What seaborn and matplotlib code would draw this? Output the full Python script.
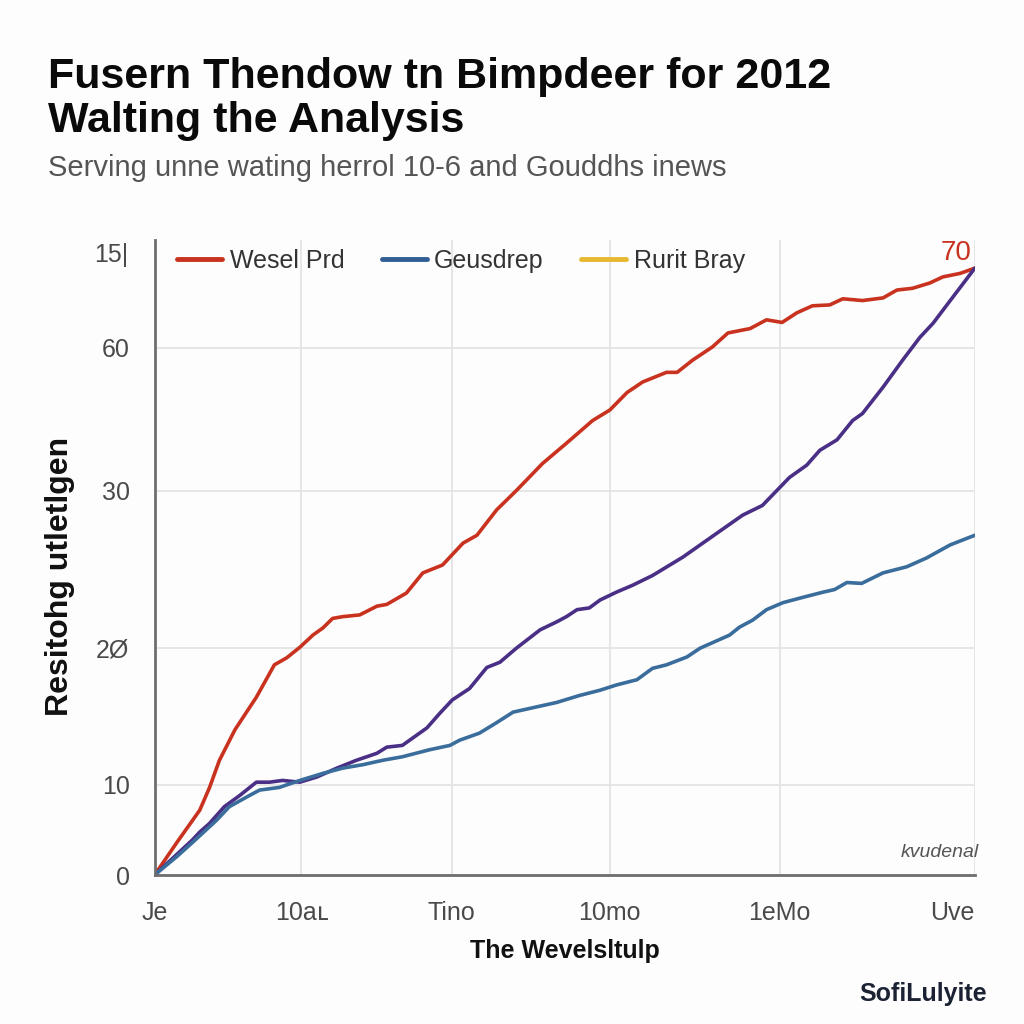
import numpy as np
import pandas as pd
import matplotlib.pyplot as plt
import seaborn as sns
from matplotlib.lines import Line2D

# Datos
red_x = [0, 2.7, 5.5, 6.7, 7.9, 9.8, 12.4, 14.6, 16.1, 17.7, 19.3, 20.5, 21.7, 22.9, 25.0,
         27.1, 28.3, 30.7, 32.7, 35.1, 37.6, 39.3, 41.7, 44.1, 47.3, 50.2, 53.4, 55.5, 57.6,
         59.5, 62.4, 63.7, 65.6, 68.0, 69.9, 72.6, 74.6, 76.5, 78.3, 80.2, 82.3, 83.9, 86.3,
         88.8, 90.5, 92.4, 94.5, 96.1, 98.2, 100]
red_y = [0, 3.7, 7.4, 10.0, 13.1, 16.6, 20.3, 24.0, 24.8, 26.0, 27.4, 28.2, 29.3, 29.5, 29.7,
         30.7, 30.9, 32.2, 34.5, 35.4, 37.9, 38.8, 41.7, 43.9, 47.0, 49.3, 51.9, 53.1, 55.1,
         56.3, 57.4, 57.4, 58.8, 60.3, 61.9, 62.4, 63.4, 63.1, 64.2, 65.0, 65.1, 65.8, 65.6,
         65.9, 66.8, 67.0, 67.6, 68.3, 68.7, 69.3]

purple_x = [0, 4.6, 5.5, 6.7, 8.5, 10.4, 12.4, 14.0, 15.6, 17.7, 19.8, 22.2, 24.6, 27.1, 28.3,
            30.2, 32.0, 33.2, 34.8, 36.3, 38.4, 40.5, 42.1, 44.1, 47.0, 49.0, 50.2, 51.5, 53.0,
            54.3, 56.3, 58.3, 60.7, 64.4, 68.5, 71.7, 74.1, 77.4, 79.5, 81.1, 83.2, 85.1, 86.3,
            88.8, 91.2, 93.3, 94.9, 97.0, 100]
purple_y = [0, 4.0, 4.9, 5.9, 7.8, 9.1, 10.6, 10.6, 10.8, 10.6, 11.2, 12.2, 13.1, 13.9, 14.6,
            14.8, 16.0, 16.8, 18.5, 20.0, 21.3, 23.7, 24.3, 25.9, 28.0, 28.9, 29.5, 30.3, 30.5,
            31.4, 32.3, 33.1, 34.2, 36.3, 39.0, 41.1, 42.2, 45.4, 46.8, 48.5, 49.7, 51.9, 52.7,
            55.7, 58.8, 61.4, 63.0, 65.6, 69.3]

blue_x = [0, 2.7, 4.6, 7.6, 9.1, 11.6, 12.8, 15.2, 17.7, 20.5, 22.9, 25.4, 27.8, 30.2, 33.5,
          36.0, 37.2, 39.6, 41.7, 43.7, 46.1, 49.0, 51.8, 54.3, 56.3, 58.8, 60.7, 62.4, 64.9,
          66.5, 70.1, 71.3, 72.9, 74.6, 76.6, 79.0, 81.5, 82.9, 84.4, 86.2, 88.8, 91.7, 94.1,
          97.0, 100]
blue_y = [0, 2.1, 3.7, 6.3, 7.8, 9.1, 9.7, 10.0, 10.8, 11.6, 12.2, 12.6, 13.1, 13.5, 14.3,
          14.8, 15.4, 16.2, 17.4, 18.6, 19.1, 19.7, 20.5, 21.1, 21.7, 22.3, 23.6, 24.0, 24.9,
          25.9, 27.4, 28.3, 29.1, 30.3, 31.1, 31.7, 32.3, 32.6, 33.4, 33.3, 34.5, 35.2, 36.2,
          37.7, 38.8]

x_ticks = [0, 17.9, 36.2, 55.5, 76.2, 100]
x_labels = ["Je", "10aւ", "Tino", "10mo", "1eMo", "Uve"]
y_ticks = [0, 10.3, 25.9, 43.9, 60.2]
y_labels = ["0", "10", "2Ø", "30", "60"]

legend_names = ["Wesel Prd", "Geusdrep", "Rurit Bray"]
legend_colors = ["#c8321e", "#2f5f95", "#e8b830"]

# Tabla larga para seaborn
df = pd.concat([
    pd.DataFrame({"x": red_x, "y": red_y, "serie": "rojo"}),
    pd.DataFrame({"x": purple_x, "y": purple_y, "serie": "morado"}),
    pd.DataFrame({"x": blue_x, "y": blue_y, "serie": "azul"}),
])
palette = {"rojo": "#c8321e", "morado": "#4a2f86", "azul": "#3a6d9c"}

sns.set_theme(style="whitegrid")
plt.rcParams['font.family'] = ['Liberation Sans', 'DejaVu Sans']

fig = plt.figure(figsize=(10.24, 10.24), dpi=100)
fig.patch.set_facecolor("#fdfdfd")
ax = fig.add_axes([0.151, 0.1455, 0.801, 0.62])
ax.set_facecolor("#fdfdfd")

sns.lineplot(data=df, x="x", y="y", hue="serie", palette=palette, estimator=None,
             sort=False, linewidth=2.6, legend=False, ax=ax)

ax.set_xlim(0, 100)
ax.set_ylim(0, 72.5)
ax.set_xticks(x_ticks)
ax.set_xticklabels(x_labels)
ax.set_yticks(y_ticks)
ax.set_yticklabels(y_labels)
ax.grid(True, color="#e4e4e4", linewidth=1.3)
for s in ["top", "right"]:
    ax.spines[s].set_visible(False)
for s in ["left", "bottom"]:
    ax.spines[s].set_color("#6e6e6e")
    ax.spines[s].set_linewidth(2)
ax.tick_params(axis="both", which="both", length=9, width=2, color="#6e6e6e",
               labelsize=18, labelcolor="#4a4a4a", direction="out")
ax.tick_params(axis="x", pad=10)
ax.tick_params(axis="y", pad=9)
ax.get_xticklabels()[-1].set_horizontalalignment("right")

ax.set_xlabel("The Wevelsltulp", fontsize=18, fontweight="bold", color="#111111", labelpad=10)
ax.set_ylabel("Resitohg utletlgen", fontsize=23, fontweight="bold", color="#111111")
ax.yaxis.set_label_coords(-0.097, 0.47)

# etiqueta superior del eje y
ax.text(-0.032, 70.8, "15|", transform=ax.get_yaxis_transform(), ha="right", va="center",
        fontsize=18, color="#4a4a4a")
ax.text(99.6, 69.6, "70", ha="right", va="bottom", fontsize=20, color="#c8321e")
ax.text(1.005, 0.022, "kvudenal", transform=ax.transAxes, ha="right", va="bottom",
        fontsize=14, style="italic", color="#555555")

handles = [Line2D([0], [0], color=c, linewidth=3.5) for c in legend_colors]
ax.legend(handles, legend_names, loc="upper left", bbox_to_anchor=(0.0, 1.022), ncol=3,
          frameon=False, fontsize=18, handlelength=1.8, handletextpad=0.3,
          columnspacing=1.5, labelcolor="#333333")

# Títulos
fig.text(0.047, 0.914, "Fusern Thendow tn Bimpdeer for 2012", fontsize=31, fontweight="bold",
         color="#0a0a0a", va="baseline")
fig.text(0.047, 0.871, "Walting the Analysis", fontsize=31, fontweight="bold",
         color="#0a0a0a", va="baseline")
fig.text(0.047, 0.828, "Serving unne wating herrol 10-6 and Gouddhs inews", fontsize=21,
         color="#555555", va="baseline")
fig.text(0.964, 0.022, "SofiLulyite", fontsize=18, fontweight="bold", color="#1b2233",
         ha="right", va="baseline")

plt.savefig("out.png", dpi=100)
